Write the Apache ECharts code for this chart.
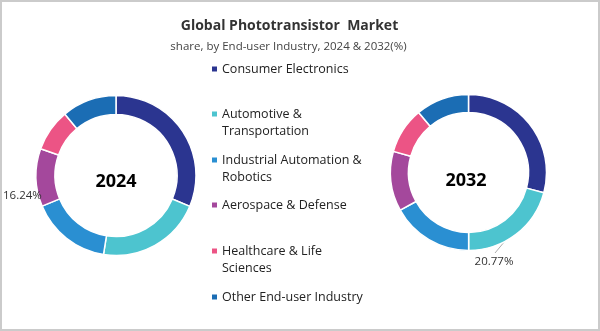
<!DOCTYPE html>
<html>
<head>
<meta charset="utf-8">
<script src="https://cdn.jsdelivr.net/npm/echarts@6/dist/echarts.min.js"></script>
<style>
  html, body { margin: 0; padding: 0; background: #fff; }
  #wrap { position: relative; width: 600px; height: 331px; }
  #chart { position: absolute; left: 0; top: 0; width: 600px; height: 331px; }
  #frame { position: absolute; left: 0; top: 0; width: 600px; height: 331px;
           box-sizing: border-box; border: 2px solid #cbcbcb; pointer-events: none; }
</style>
</head>
<body>
<div id="wrap">
  <div id="chart"></div>
  <div id="frame"></div>
</div>
<script>
// End-user industry segments and their shares (%)
const industries = [
  'Consumer Electronics',
  'Automotive & Transportation',
  'Industrial Automation & Robotics',
  'Aerospace & Defense',
  'Healthcare & Life Sciences',
  'Other End-user Industry'
];
// Legend text split over lines
const legendLines = [
  ['Consumer Electronics'],
  ['Automotive &', 'Transportation'],
  ['Industrial Automation &', 'Robotics'],
  ['Aerospace & Defense'],
  ['Healthcare & Life', 'Sciences'],
  ['Other End-user Industry']
];
const colors = ['#2b3590', '#4dc4cf', '#2a8fd2', '#a4489c', '#ec5485', '#1b6db4'];
const share2024 = [31.3, 21.2, 16.24, 11.7, 8.5, 11.06];
const share2032 = [29.2, 20.77, 17.0, 12.4, 9.6, 11.03];
const years = ['2024', '2032'];
// Which slice carries a value label in each year
const labelled2024 = 2;
const labelled2032 = 1;

const FONT = 'Open Sans';
const chart = echarts.init(document.getElementById('chart'), null, { renderer: 'canvas' });

function pieData(values, labelledIdx, withLine) {
  return industries.map((name, i) => ({
    name,
    value: values[i],
    label: { show: i === labelledIdx },
    labelLine: { show: withLine && i === labelledIdx }
  }));
}

// One legend block per item so each square lines up with the first text line
const LINE_H = 17;
const legendTops = [69, 114, 160, 205, 251, 297];
const legends = industries.map((name, i) => {
  const lines = legendLines[i];
  const text = lines.length > 1 ? '\n' + lines.join('\n') : lines[0];
  const blockH = lines.length > 1 ? LINE_H * 3 : LINE_H;
  return {
    data: [{ name, icon: 'rect' }],
    left: 205,
    top: legendTops[i] - blockH / 2 - 5,
    itemWidth: 7,
    itemHeight: 7,
    itemGap: 0,
    selectedMode: false,
    formatter: () => text,
    textStyle: { fontFamily: FONT, fontSize: 12.5, color: '#222', lineHeight: LINE_H, padding: [0, 0, 0, -1] }
  };
});

// Leader line for the 2032 label: from the slice edge down to the label
function leaderLayout(params) {
  const out = { x: 494, y: 262, align: 'center', verticalAlign: 'middle' };
  const pts = params.labelLinePoints;
  if (pts && pts[0]) {
    const start = [pts[0][0] - 3, pts[0][1] - 3];
    const end = [495, 253];
    out.labelLinePoints = [start, [(start[0] + end[0]) / 2, (start[1] + end[1]) / 2], end];
  }
  return out;
}

const option = {
  color: colors,
  animation: false,
  title: [
    {
      text: 'Global Phototransistor  Market',
      left: 284.5, top: 14, textAlign: 'center',
      textStyle: { fontFamily: FONT, fontWeight: 'bold', fontSize: 14, color: '#333' }
    },
    {
      text: 'share, by End-user Industry, 2024 & 2032(%)',
      left: 283.5, top: 36, textAlign: 'center',
      textStyle: { fontFamily: FONT, fontWeight: 'normal', fontSize: 11.5, color: '#444' }
    },
    {
      text: years[0], left: 111, top: 168, textAlign: 'center',
      textStyle: { fontFamily: FONT, fontWeight: 'bold', fontSize: 18, color: '#000' }
    },
    {
      text: years[1], left: 461, top: 167, textAlign: 'center',
      textStyle: { fontFamily: FONT, fontWeight: 'bold', fontSize: 18, color: '#000' }
    }
  ],
  legend: legends,
  series: [
    {
      name: years[0],
      type: 'pie',
      center: [116, 175.5],
      radius: [61, 80],
      startAngle: 90,
      clockwise: true,
      avoidLabelOverlap: false,
      itemStyle: { borderColor: '#fff', borderWidth: 1.5 },
      label: {
        position: 'outside',
        formatter: (p) => p.value.toFixed(2) + '%',
        fontFamily: FONT, fontSize: 11.5, color: '#333'
      },
      labelLine: { show: false },
      labelLayout: () => ({ x: 3, y: 196, align: 'left', verticalAlign: 'middle' }),
      data: pieData(share2024, labelled2024, false)
    },
    {
      name: years[1],
      type: 'pie',
      center: [468.5, 172.5],
      radius: [60, 78],
      startAngle: 90,
      clockwise: true,
      avoidLabelOverlap: false,
      itemStyle: { borderColor: '#fff', borderWidth: 1.5 },
      label: {
        position: 'outside',
        formatter: (p) => p.value.toFixed(2) + '%',
        fontFamily: FONT, fontSize: 11.5, color: '#333'
      },
      labelLine: { lineStyle: { color: '#aaa', width: 1 }, length: 10, length2: 10 },
      labelLayout: leaderLayout,
      data: pieData(share2032, labelled2032, true)
    }
  ]
};
chart.setOption(option);
</script>
</body>
</html>
